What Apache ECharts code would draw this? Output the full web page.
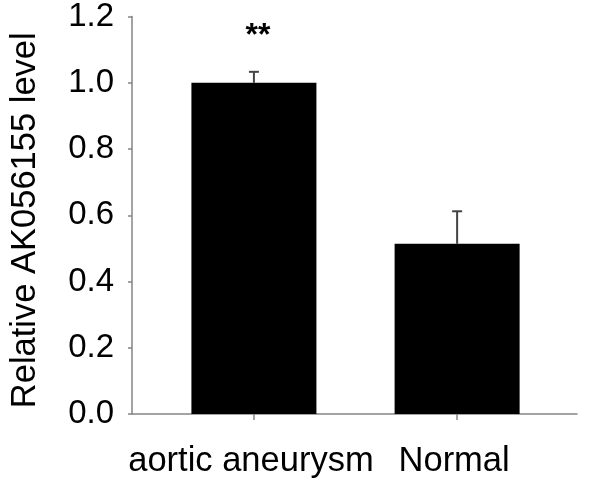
<!DOCTYPE html>
<html>
<head>
<meta charset="utf-8">
<script src="https://cdn.jsdelivr.net/npm/echarts@6/dist/echarts.min.js"></script>
<style>html,body{margin:0;padding:0;background:#fff}#c{width:600px;height:487px}</style>
</head>
<body>
<div id="c"></div>
<script>
const categories = ['aortic aneurysm', 'Normal'];
const values = [1.0, 0.514];
const errors = [0.033, 0.098];
const marks = ['**', ''];
const yTicks = [0, 0.2, 0.4, 0.6, 0.8, 1.0, 1.2];

const chart = echarts.init(document.getElementById('c'));
const FONT = 'Liberation Sans, Arial, sans-serif';
const barData = values.map((v, i) => [i, v]);
const errData = values.map((v, i) => [i, v, errors[i]]);

chart.setOption({
  animation: false,
  backgroundColor: '#fff',
  grid: { left: 122, right: 23, top: 16, bottom: 73, containLabel: false },
  xAxis: {
    type: 'value',
    min: -0.6, max: 1.59,
    splitLine: { show: false },
    axisLine: { show: true, onZero: false, lineStyle: { color: '#858585', width: 1.5 } },
    axisTick: { show: true, customValues: [0, 1], length: 6, lineStyle: { color: '#858585', width: 1.5 } },
    axisLabel: {
      customValues: [0, 1],
      formatter: v => categories[Math.round(v)] || '',
      color: '#000', fontSize: 34.5, fontFamily: FONT, margin: 30,
      padding: [0, 6, 0, 0]
    }
  },
  yAxis: {
    type: 'value', min: 0, max: 1.2, interval: 0.2,
    name: 'Relative AK056155 level',
    nameLocation: 'middle', nameRotate: 90, nameGap: 89,
    nameTextStyle: { color: '#000', fontSize: 34.5, fontFamily: FONT, padding: [0, 10, 0, 0] },
    splitLine: { show: false },
    axisLine: { show: true, onZero: false, lineStyle: { color: '#858585', width: 1.5 } },
    axisTick: { show: true, length: 4, lineStyle: { color: '#858585', width: 1.5 } },
    axisLabel: {
      customValues: yTicks,
      formatter: v => v.toFixed(1),
      color: '#000', fontSize: 33, fontFamily: FONT, margin: 18
    }
  },
  series: [
    {
      type: 'bar', data: barData, barWidth: 125,
      itemStyle: { color: '#000' }
    },
    {
      type: 'custom', data: errData, z: 1,
      renderItem: function (params, api) {
        const x = api.value(0), v = api.value(1), e = api.value(2);
        const p0 = api.coord([x, v]);
        const p1 = api.coord([x, v + e]);
        const m = marks[params.dataIndex];
        const children = [
          { type: 'line', shape: { x1: p0[0], y1: p0[1], x2: p1[0], y2: p1[1] }, style: { stroke: '#444', lineWidth: 2 } },
          { type: 'line', shape: { x1: p1[0] - 5, y1: p1[1], x2: p1[0] + 5, y2: p1[1] }, style: { stroke: '#444', lineWidth: 2 } }
        ];
        if (m) {
          children.push({ type: 'text', x: p1[0] + 4, y: p1[1] - 36, style: { text: m, fill: '#000', font: 'bold 32px ' + FONT, align: 'center', verticalAlign: 'middle' } });
        }
        return { type: 'group', children: children };
      }
    }
  ]
});
</script>
</body>
</html>
